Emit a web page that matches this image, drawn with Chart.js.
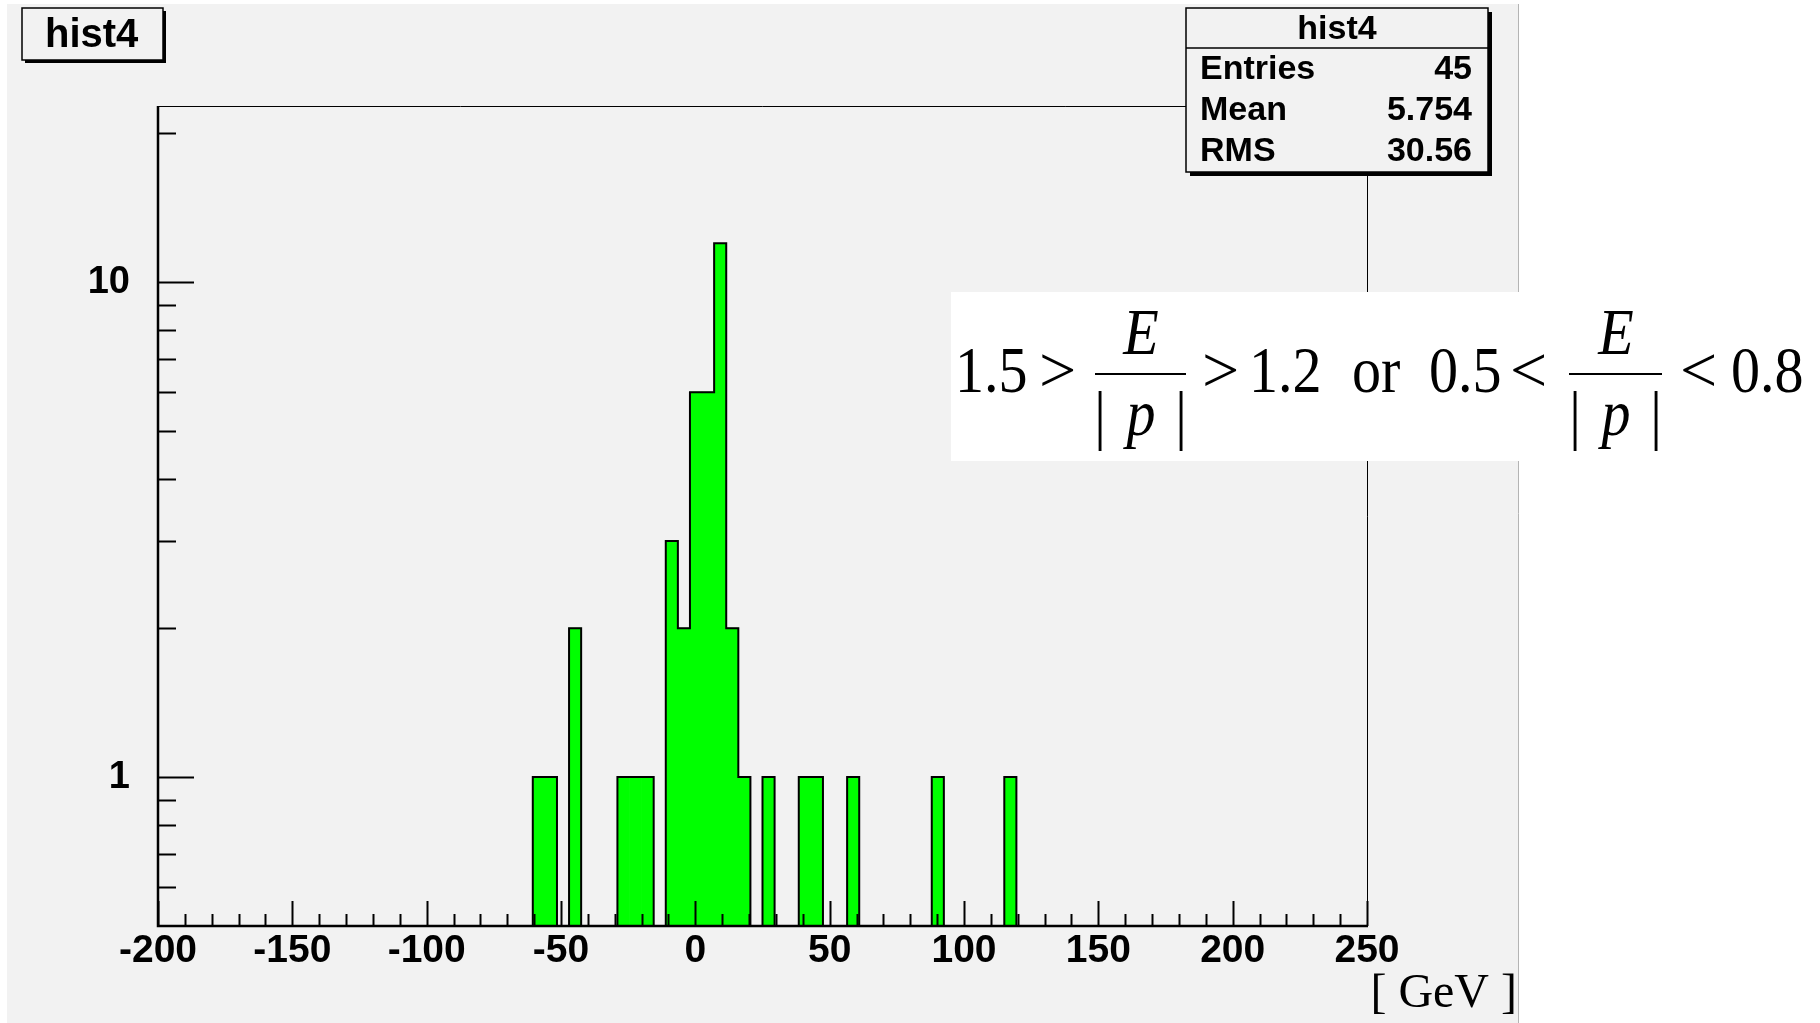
<!DOCTYPE html>
<html>
<head>
<meta charset="utf-8">
<title>hist4</title>
<script src="https://cdn.jsdelivr.net/npm/chart.js@4.4.1/dist/chart.umd.min.js"></script>
<style>
  html, body { margin: 0; padding: 0; background: #ffffff; }
  canvas { display: block; }
</style>
</head>
<body>
<canvas id="hist" width="1820" height="1023"></canvas>
<script>
// non-empty bins of hist4 (centre in GeV, 4.5 GeV wide) and their counts
const binCenters = [-58.25, -53.75, -44.75, -26.75, -22.25, -17.75, -8.75, -4.25, 0.25, 4.75,
                    9.25, 13.75, 18.25, 27.25, 40.75, 45.25, 58.75, 90.25, 117.25];
const binCounts  = [1, 1, 2, 1, 1, 1, 3, 2, 6, 6,
                    12, 2, 1, 1, 1, 1, 1, 1, 1];
const binWidth = 4.5;

const xMin = -200, xMax = 250;
const yMin = 0.5, yMax = 22.73;

// axis ticks
const xTickLabels = [-200, -150, -100, -50, 0, 50, 100, 150, 200, 250];
const yTickLabels = [1, 10];
const yMinorTicks = [0.6, 0.7, 0.8, 0.9, 2, 3, 4, 5, 6, 7, 8, 9, 20];

const statsTitle = 'hist4';
const statsNames  = ['Entries', 'Mean', 'RMS'];
const statsValues = ['45', '5.754', '30.56'];

const SANS = '"Liberation Sans", Arial, Helvetica, sans-serif';
const SERIF = '"Liberation Serif", "Times New Roman", serif';
const PAD = '#f2f2f2';

// outline of the histogram: one step line around the filled bins
const outline = [];
binCenters.forEach((c, i) => {
  const lo = c - binWidth / 2, hi = c + binWidth / 2;
  const prevHi = i > 0 ? binCenters[i - 1] + binWidth / 2 : null;
  if (prevHi === null || Math.abs(prevHi - lo) > 1e-9) {
    if (prevHi !== null) outline.push({ x: prevHi, y: yMin });
    outline.push({ x: lo, y: yMin });
  }
  outline.push({ x: lo, y: binCounts[i] });
  outline.push({ x: hi, y: binCounts[i] });
});
outline.push({ x: binCenters[binCenters.length - 1] + binWidth / 2, y: yMin });

const barData = binCenters.map((c, i) => ({ x: c, y: binCounts[i] }));

// minor x ticks every 10 GeV
const xMinorTicks = [];
for (let v = xMin; v <= xMax; v += 10) {
  if (!xTickLabels.includes(v)) xMinorTicks.push(v);
}

function stretchedText(ctx, text, x, y, sx) {
  ctx.save();
  ctx.translate(x, y);
  ctx.scale(sx, 1);
  ctx.fillText(text, 0, 0);
  ctx.restore();
}

function shadowBox(ctx, x1, y1, x2, y2, sh) {
  ctx.fillStyle = '#000';
  ctx.fillRect(x1 + sh, y1 + sh, x2 - x1, y2 - y1);
  ctx.fillStyle = PAD;
  ctx.fillRect(x1, y1, x2 - x1, y2 - y1);
  ctx.strokeStyle = '#000';
  ctx.lineWidth = 1.5;
  ctx.strokeRect(x1, y1, x2 - x1, y2 - y1);
}

const padPlugin = {
  id: 'pad',
  beforeDraw(chart) {
    const ctx = chart.ctx;
    ctx.save();
    ctx.fillStyle = '#ffffff';
    ctx.fillRect(0, 0, chart.width, chart.height);
    ctx.fillStyle = PAD;
    ctx.fillRect(7, 4, 1511, chart.height - 4);
    ctx.strokeStyle = '#b4b4b4';
    ctx.lineWidth = 1;
    ctx.beginPath();
    ctx.moveTo(1518.5, 4);
    ctx.lineTo(1518.5, chart.height);
    ctx.stroke();
    ctx.restore();
  },
  afterDraw(chart) {
    const ctx = chart.ctx;
    const xs = chart.scales.x, ys = chart.scales.y;
    const a = chart.chartArea;
    ctx.save();

    // frame
    ctx.strokeStyle = '#000';
    ctx.lineWidth = 1;
    ctx.beginPath();
    ctx.moveTo(a.left, a.top + 0.5);
    ctx.lineTo(a.right + 0.5, a.top + 0.5);
    ctx.lineTo(a.right + 0.5, a.bottom);
    ctx.stroke();
    ctx.lineWidth = 2.5;
    ctx.beginPath();
    ctx.moveTo(a.left, a.top);
    ctx.lineTo(a.left, a.bottom);
    ctx.lineTo(a.right + 1, a.bottom);
    ctx.stroke();

    // x ticks (pointing into the frame)
    ctx.lineWidth = 2;
    ctx.beginPath();
    xTickLabels.forEach(v => {
      const px = Math.round(xs.getPixelForValue(v)) + 0.5;
      ctx.moveTo(px, a.bottom);
      ctx.lineTo(px, a.bottom - 25);
    });
    xMinorTicks.forEach(v => {
      const px = Math.round(xs.getPixelForValue(v)) + 0.5;
      ctx.moveTo(px, a.bottom);
      ctx.lineTo(px, a.bottom - 12);
    });
    // y ticks
    yTickLabels.forEach(v => {
      const py = Math.round(ys.getPixelForValue(v)) + 0.5;
      ctx.moveTo(a.left, py);
      ctx.lineTo(a.left + 36, py);
    });
    yMinorTicks.forEach(v => {
      const py = Math.round(ys.getPixelForValue(v)) + 0.5;
      ctx.moveTo(a.left, py);
      ctx.lineTo(a.left + 18, py);
    });
    ctx.stroke();

    // title box
    shadowBox(ctx, 22, 8, 163, 60, 3);
    ctx.fillStyle = '#000';
    ctx.font = 'bold 40px ' + SANS;
    ctx.textAlign = 'left';
    ctx.textBaseline = 'alphabetic';
    ctx.fillText('hist4', 45, 47);

    // stats box
    shadowBox(ctx, 1186, 8, 1488, 172, 4);
    ctx.lineWidth = 1.5;
    ctx.beginPath();
    ctx.moveTo(1186, 48);
    ctx.lineTo(1488, 48);
    ctx.stroke();
    ctx.fillStyle = '#000';
    ctx.font = 'bold 34px ' + SANS;
    ctx.textAlign = 'center';
    ctx.fillText(statsTitle, 1337, 39);
    statsNames.forEach((name, i) => {
      const yb = 79 + i * 41;
      ctx.textAlign = 'left';
      ctx.fillText(name, 1200, yb);
      ctx.textAlign = 'right';
      ctx.fillText(statsValues[i], 1472, yb);
    });

    // selection text box
    ctx.fillStyle = '#ffffff';
    ctx.fillRect(951, 292, 869, 169);
    ctx.fillStyle = '#000';
    ctx.textAlign = 'left';
    ctx.font = '66px ' + SERIF;
    const base = 392, sx = 0.88;
    stretchedText(ctx, '1.5', 955, base, sx);
    stretchedText(ctx, '1.2', 1249, base, sx);
    stretchedText(ctx, 'or', 1352, base, sx);
    stretchedText(ctx, '0.5', 1429, base, sx);
    stretchedText(ctx, '0.8', 1731, base, sx);
    ctx.fillText('>', 1039, base);
    ctx.fillText('>', 1202, base);
    ctx.fillText('<', 1510, base);
    ctx.fillText('<', 1680, base);
    [[1095, 1186, 1141, 1100, 1181], [1569, 1662, 1616, 1575, 1656]].forEach(f => {
      ctx.lineWidth = 2;
      ctx.beginPath();
      ctx.moveTo(f[0], 374);
      ctx.lineTo(f[1], 374);
      ctx.stroke();
      ctx.textAlign = 'center';
      ctx.font = 'italic 66px ' + SERIF;
      stretchedText(ctx, 'E', f[2], 354, sx);
      stretchedText(ctx, 'p', f[2], 435, sx);
      ctx.font = '66px ' + SERIF;
      stretchedText(ctx, '|', f[3], 437, sx);
      stretchedText(ctx, '|', f[4], 437, sx);
    });

    // axis title
    ctx.textAlign = 'right';
    ctx.font = '48px ' + SERIF;
    ctx.fillText('[ GeV ]', 1517, 1007);

    ctx.restore();
  }
};

Chart.defaults.font.family = SANS;
Chart.defaults.color = '#000';

new Chart(document.getElementById('hist'), {
  type: 'bar',
  data: {
    datasets: [{
      type: 'line',
      data: outline,
      borderColor: '#000',
      borderWidth: 2,
      pointRadius: 0,
      fill: false,
      tension: 0,
      borderJoinStyle: 'miter',
      order: 0
    }, {
      type: 'bar',
      data: barData,
      backgroundColor: '#00ff00',
      borderWidth: 0,
      barPercentage: 1,
      categoryPercentage: 1,
      order: 1
    }]
  },
  options: {
    responsive: false,
    devicePixelRatio: 1,
    animation: false,
    events: [],
    layout: { padding: { left: 0, top: 106, right: 453, bottom: 0 } },
    plugins: { legend: { display: false }, tooltip: { enabled: false } },
    scales: {
      x: {
        type: 'linear',
        min: xMin,
        max: xMax,
        offset: false,
        grid: { display: false, offset: false, drawTicks: false },
        border: { display: false },
        afterBuildTicks: axis => { axis.ticks = xTickLabels.map(v => ({ value: v })); },
        afterFit: axis => { axis.height = 97; },
        ticks: {
          autoSkip: false,
          maxRotation: 0,
          padding: 2,
          font: { size: 39, weight: 'bold' },
          callback: v => String(v)
        }
      },
      y: {
        type: 'logarithmic',
        min: yMin,
        max: yMax,
        grid: { display: false, drawTicks: false },
        border: { display: false },
        afterBuildTicks: axis => {
          axis.ticks = yMinorTicks.concat(yTickLabels).sort((p, q) => p - q).map(v => ({ value: v }));
        },
        afterFit: axis => { axis.width = 158; },
        ticks: {
          padding: 28,
          font: { size: 38, weight: 'bold' },
          callback: v => (yTickLabels.includes(v) ? String(v) : '')
        }
      }
    }
  },
  plugins: [padPlugin]
});
</script>
</body>
</html>
